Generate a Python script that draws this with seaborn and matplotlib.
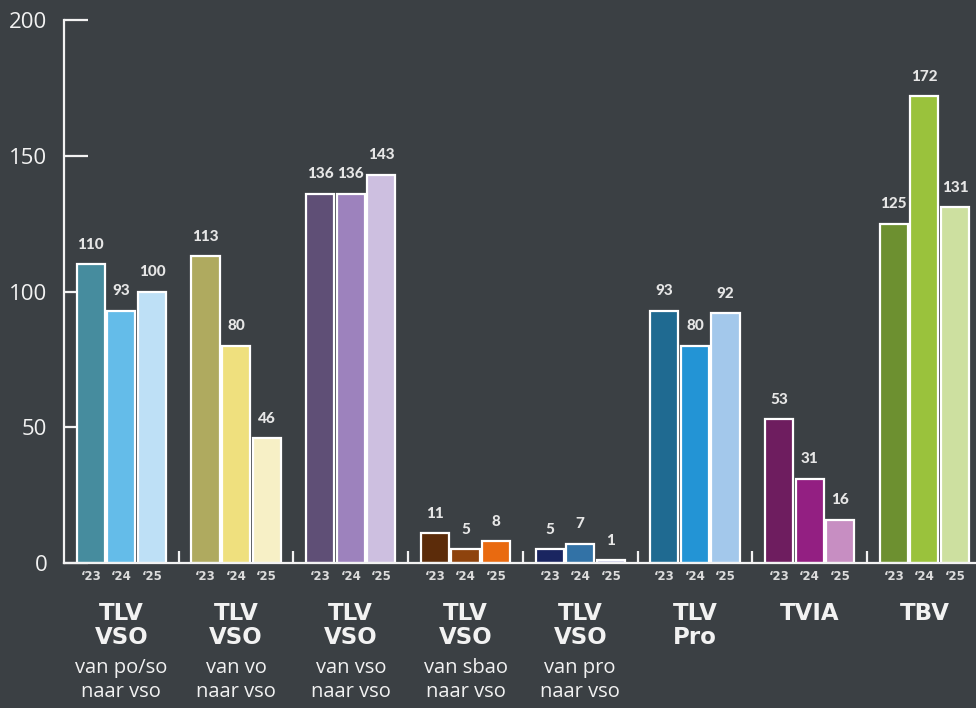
import numpy as np
import pandas as pd
import matplotlib
matplotlib.use("Agg")
import matplotlib.pyplot as plt
import matplotlib.transforms as mtransforms
import seaborn as sns

# ---- data ----
groups = ["G1", "G2", "G3", "G4", "G5", "G6", "G7", "G8"]
titles = [["TLV", "VSO"], ["TLV", "VSO"], ["TLV", "VSO"], ["TLV", "VSO"],
          ["TLV", "VSO"], ["TLV", "Pro"], ["TVIA"], ["TBV"]]
subtitles = [["van po/so", "naar vso"], ["van vo", "naar vso"], ["van vso", "naar vso"],
             ["van sbao", "naar vso"], ["van pro", "naar vso"], [], [], []]
years = ["'23", "'24", "'25"]
year_labels = ["\u201823", "\u201824", "\u201825"]
v23 = [110, 113, 136, 11, 5, 93, 53, 125]
v24 = [93, 80, 136, 5, 7, 80, 31, 172]
v25 = [100, 46, 143, 8, 1, 92, 16, 131]
colors = [
    ["#468C9E", "#64BCE9", "#BEE0F6"],
    ["#AFAA5F", "#EFE07E", "#F7F0C6"],
    ["#5F4F76", "#9D82BD", "#CDBFE0"],
    ["#5C2C0A", "#8E430D", "#E96A10"],
    ["#1A2560", "#3272A6", "#C6C6E4"],
    ["#1F6A91", "#2394D5", "#A3C8EB"],
    ["#6E1D5F", "#931F82", "#C78EC2"],
    ["#6D9030", "#9AC23C", "#CDE0A0"],
]
yticks = [0, 50, 100, 150, 200]

df = pd.DataFrame({
    "group": groups * 3,
    "year": [years[0]] * 8 + [years[1]] * 8 + [years[2]] * 8,
    "value": v23 + v24 + v25,
})

BG = "#3b4044"
FG = "#f2f2f2"

sns.set_theme(style="dark")
plt.rcParams["font.family"] = ["Open Sans", "DejaVu Sans"]

fig = plt.figure(figsize=(9.76, 7.08), dpi=100, facecolor=BG)
ax = fig.add_axes([64 / 976, 1 - 563 / 708, 1 - 64 / 976, (563 - 20) / 708])
ax.set_facecolor(BG)

sns.barplot(data=df, x="group", y="value", hue="year", order=groups, hue_order=years,
            width=0.8, gap=0.08, edgecolor="white", linewidth=1.6, ax=ax, legend=False,
            errorbar=None)

for j, cont in enumerate(ax.containers):
    for i, bar in enumerate(cont):
        bar.set_facecolor(colors[i][j])
        bar.set_edgecolor("white")
        h = bar.get_height()
        ax.annotate(f"{int(h)}", (bar.get_x() + bar.get_width() / 2, h),
                    xytext=(0, 9), textcoords="offset points", ha="center", va="bottom",
                    fontsize=11, fontweight="black", color="#e6e6e6", family="Lato")

ax.set_xlim(-0.5, 7.45)
ax.set_ylim(0, 200)
ax.set_xlabel("")
ax.set_ylabel("")

for s in ["top", "right"]:
    ax.spines[s].set_visible(False)
for s in ["left", "bottom"]:
    ax.spines[s].set_visible(True)
    ax.spines[s].set_color(FG)
    ax.spines[s].set_linewidth(1.6)
ax.spines["bottom"].set_zorder(5)

ax.set_yticks(yticks)
ax.set_yticklabels([str(t) for t in yticks])
ax.tick_params(axis="y", direction="in", length=17, width=1.6, color=FG, pad=12,
               labelsize=16, labelcolor=FG, left=True)
ax.set_xticks([i + 0.5 for i in range(len(groups) - 1)])
ax.set_xticklabels([])
ax.tick_params(axis="x", direction="in", length=9, width=1.6, color=FG, bottom=True)
ax.grid(False)

trans = mtransforms.blended_transform_factory(ax.transData, fig.transFigure)
offs = [-0.8 / 3, 0, 0.8 / 3]
for i in range(len(groups)):
    for j in range(3):
        ax.text(i + offs[j], 1 - 576 / 708, year_labels[j], transform=trans,
                ha="center", va="center", fontsize=8.5, fontweight="bold",
                color="#dcdcdc", family="DejaVu Sans")
    for k, line in enumerate(titles[i]):
        ax.text(i, 1 - (613 + 24 * k) / 708, line, transform=trans, ha="center",
                va="center", fontsize=16.5, fontweight="bold", color=FG, family="DejaVu Sans")
    for k, line in enumerate(subtitles[i]):
        ax.text(i, 1 - (668 + 24 * k) / 708, line, transform=trans, ha="center",
                va="center", fontsize=14.5, color=FG, family="Open Sans")

fig.savefig("out.png", dpi=100, facecolor=BG)
